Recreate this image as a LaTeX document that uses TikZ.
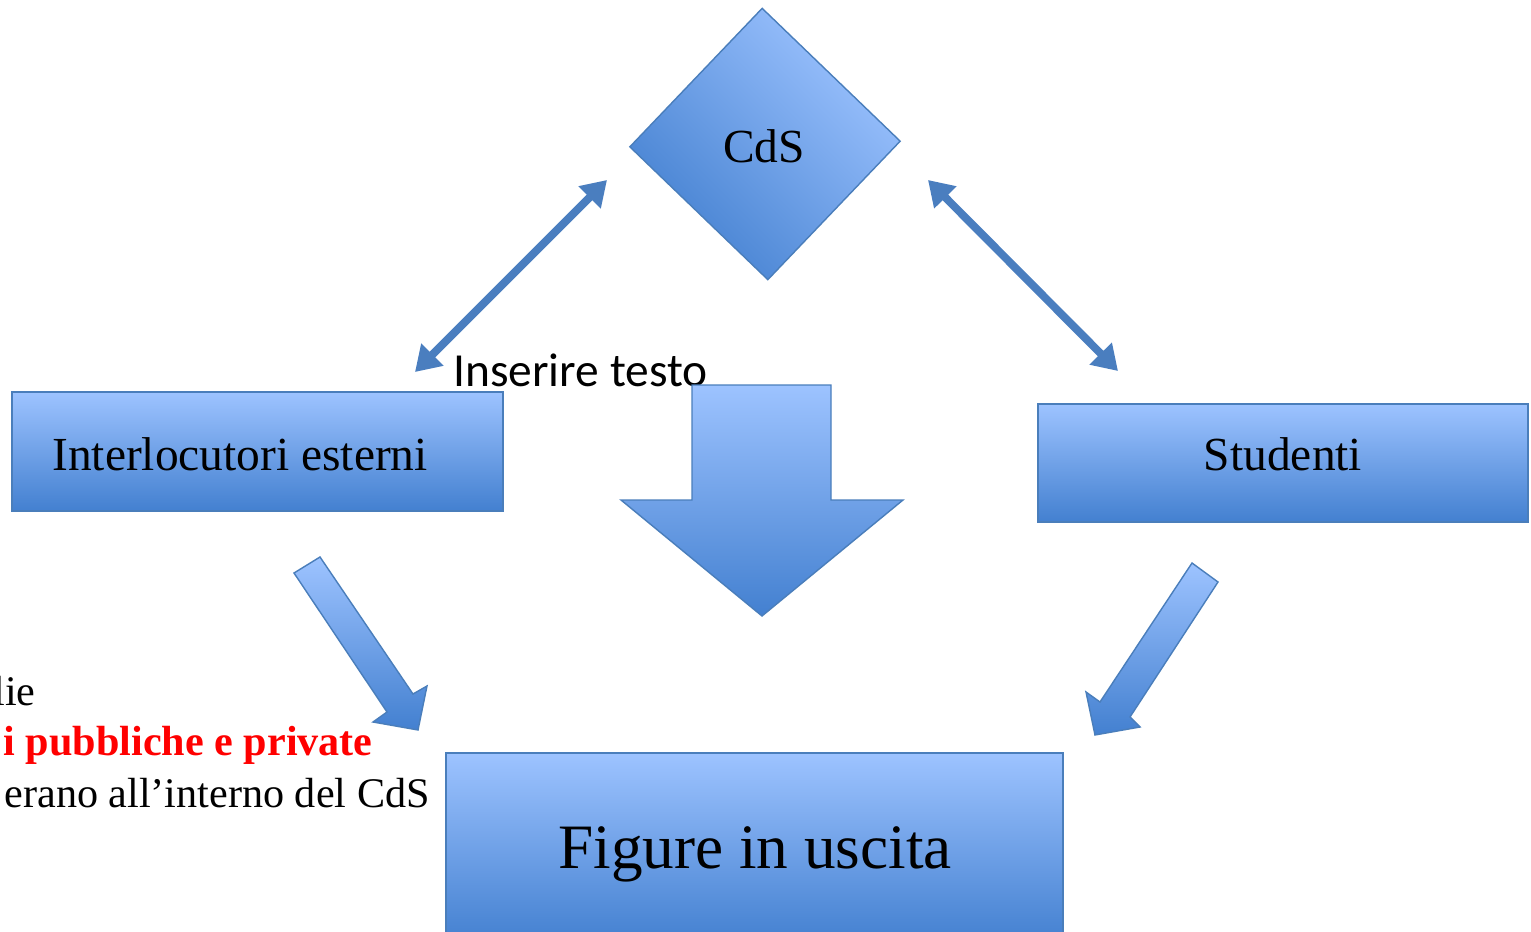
\documentclass[tikz,border=0pt]{standalone}
\usepackage{fontspec}
\setmainfont{Liberation Serif}
\newfontfamily\calibri{Carlito}
\usepackage{xcolor}
\usetikzlibrary{shapes.geometric, arrows.meta}

\definecolor{boxlight}{HTML}{9DC3FF}
\definecolor{boxdark}{HTML}{4380D0}
\definecolor{boxline}{HTML}{4A7EBB}
\definecolor{linkblue}{HTML}{4A7EBF}
\definecolor{notered}{HTML}{FF0000}

\begin{document}
\begin{tikzpicture}[x=0.02cm, y=-0.02cm,
    box/.style={draw=boxline, line width=0.8pt, top color=boxlight, bottom color=boxdark, inner sep=0pt},
    blockarrow/.style={draw=boxline, line width=0.8pt, line join=miter, top color=boxlight, bottom color=boxdark},
    label text/.style={inner sep=0pt, anchor=base, font=\fontsize{27}{32}\selectfont},
    note/.style={inner sep=0pt, anchor=base east, font=\fontsize{24}{28}\selectfont},
    link/.style={draw=linkblue, line width=4.5pt, {Triangle[length=14pt,width=17pt]}-{Triangle[length=14pt,width=17pt]}}]
  \useasboundingbox (0,0) rectangle (1531,932);

  % side note, cut by the page edge
  \node[note] (n1) at (36,705) {lie};
  \node[note, text=notered, font=\fontsize{24}{28}\selectfont\bfseries] (n2) at (373,755) {i pubbliche e private};
  \node[note] (n3) at (430,807) {erano all’interno del CdS};

  % boxes
  \node[box, diamond, minimum width=5.42cm, minimum height=5.44cm, rotate=1.2, shading angle=-45] (cds) at (765,144) {};
  \node[box, minimum width=9.82cm, minimum height=2.38cm] (ext) at (257.5,451.5) {};
  \node[box, minimum width=9.80cm, minimum height=2.36cm] (stud) at (1283,463) {};
  \node[box, minimum width=12.34cm, minimum height=3.8cm] (out) at (754.5,848) {};

  \node[label text] (cdstext) at (764,163) {CdS};
  \node[label text] (exttext) at (240,470) {Interlocutori esterni};
  \node[label text] (studtext) at (1283,470) {Studenti};
  \node[label text, font=\fontsize{36}{42}\selectfont] (outtext) at (755,868) {Figure in uscita};
  \node[inner sep=0pt, anchor=base west, font=\calibri\fontsize{27}{32}\selectfont] (hint) at (453,386) {Inserire testo};

  % block arrows
  \path[blockarrow] (692,385) -- (831,385) -- (831,500) -- (903,500) -- (762,616) -- (621,500) -- (692,500) -- cycle;
  \path[blockarrow] (294,573) -- (320,557) -- (413,694) -- (427,686) -- (418,730) -- (373,722) -- (387,712) -- cycle;
  \path[blockarrow] (1192,563) -- (1218,582) -- (1130,717) -- (1140,727) -- (1095,735) -- (1086,692) -- (1100,702) -- cycle;

  % exchanges with the CdS
  \coordinate (l1) at (415,372);
  \coordinate (l2) at (607,180);
  \coordinate (r1) at (928,180);
  \coordinate (r2) at (1118,371);
  \draw[link] (l1) -- (l2);
  \draw[link] (r1) -- (r2);
\end{tikzpicture}
\end{document}
